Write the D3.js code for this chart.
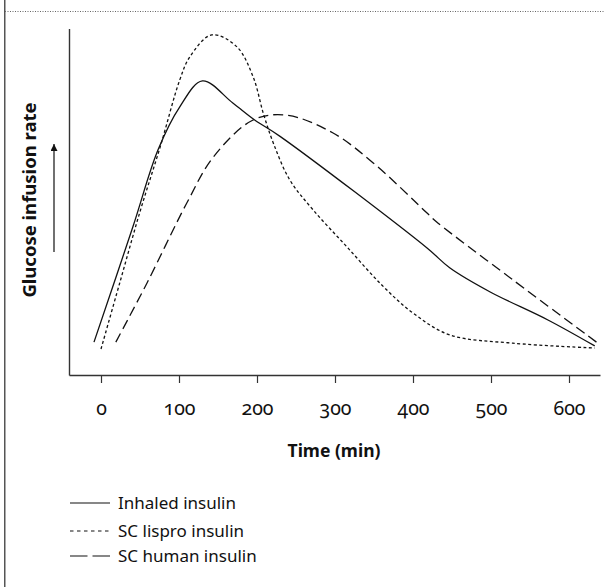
<!DOCTYPE html>
<html>
<head>
<meta charset="utf-8">
<script src="https://cdn.jsdelivr.net/npm/d3@7"></script>
<style>
  body { margin: 0; background: #fff; }
  svg { display: block; }
  svg text { font-family: "Noto Sans", "Open Sans", sans-serif; fill: #111; }
  .tick text { font-variant-numeric: oldstyle-nums; font-feature-settings: "onum"; }
</style>
</head>
<body>
<div id="box-div"></div>
<script>
// time points (min) and relative glucose infusion rate (0-100, arbitrary)
const inhaledTime  = [-9, 41, 73, 101, 130, 169, 197, 230, 418, 447, 499, 573, 633];
const inhaledValue = [9.5, 42.9, 65, 77.5, 85, 78.6, 73.7, 68.9, 36.7, 31, 24, 15.9, 8.4];

const lisproTime  = [0, 24, 50, 76, 101, 114, 142, 174, 195, 208, 221, 242, 272, 315, 360, 400, 447, 528, 633];
const lisproValue = [7.5, 26.6, 47.2, 66, 85.3, 92, 98.3, 94.9, 86.2, 75.7, 67, 56.4, 47.7, 37.1, 26, 17.9, 11.6, 9.2, 7.8];

const humanTime  = [19, 59, 110, 144, 195, 238, 297, 349, 418, 430, 528, 637];
const humanValue = [9.5, 26.6, 49.7, 63, 73.7, 75.1, 70, 61.3, 46.8, 44.3, 27.5, 9.2];

const xTicks = [0, 100, 200, 300, 400, 500, 600];
const legendLabels = ['Inhaled insulin', 'SC lispro insulin', 'SC human insulin'];

const dms = { width: 605, height: 587 };

const svg = d3.select('#box-div').append('svg')
    .attr('width', dms.width)
    .attr('height', dms.height);

// frame bits left over from the page crop
svg.append('rect')
    .attr('x', 4).attr('y', 0).attr('width', 1.5).attr('height', dms.height)
    .attr('fill', '#555');
svg.append('line')
    .attr('x1', 5).attr('y1', 11.5).attr('x2', dms.width).attr('y2', 11.5)
    .attr('stroke', '#666').attr('stroke-width', 1)
    .attr('stroke-dasharray', '1,1.5');

// x(0) lands near 101, 100 min = 78 px
const x = d3.scaleLinear()
    .domain([-(101 - 69) / 0.78, (600 - 101) / 0.78])
    .range([69, 600]);
const y = d3.scaleLinear().domain([0, 100]).range([375, 29]);

const xAxis = svg.append('g')
    .attr('transform', 'translate(0,375)')
    .call(d3.axisBottom(x).tickValues(xTicks).tickSize(8).tickPadding(18).tickSizeOuter(0));
xAxis.select('.domain').attr('stroke', '#333').attr('stroke-width', 1.4);
xAxis.selectAll('.tick line').attr('stroke', '#333').attr('stroke-width', 1.2);
xAxis.selectAll('.tick text').attr('font-size', 19.5).attr('fill', '#111')
    .style('font-family', '"Noto Sans", sans-serif');

svg.append('line')
    .attr('x1', 69.5).attr('y1', 29).attr('x2', 69.5).attr('y2', 375.5)
    .attr('stroke', '#333').attr('stroke-width', 1.4);

// axis titles
svg.append('text')
    .attr('x', 334).attr('y', 457)
    .attr('text-anchor', 'middle')
    .attr('font-size', 17.5).attr('font-weight', 'bold')
    .text('Time (min)');

svg.append('text')
    .attr('transform', 'translate(36,200) rotate(-90)')
    .attr('text-anchor', 'middle')
    .attr('font-size', 18.5).attr('font-weight', 'bold')
    .text('Glucose infusion rate');

svg.append('defs').append('marker')
    .attr('id', 'arrow')
    .attr('viewBox', '0 0 10 10')
    .attr('refX', 10).attr('refY', 5)
    .attr('markerWidth', 7).attr('markerHeight', 7)
    .attr('markerUnits', 'userSpaceOnUse')
    .attr('orient', 'auto')
    .append('path').attr('d', 'M0,0L10,5L0,10z').attr('fill', '#111');

svg.append('line')
    .attr('x1', 54).attr('y1', 252).attr('x2', 54).attr('y2', 144)
    .attr('stroke', '#111').attr('stroke-width', 1.2)
    .attr('marker-end', 'url(#arrow)');

// curves
const series = [
    { t: inhaledTime, v: inhaledValue, dash: null },
    { t: lisproTime, v: lisproValue, dash: '3,2.5' },
    { t: humanTime, v: humanValue, dash: '10,5' }
];

const lineGen = d3.line()
    .x(d => x(d[0]))
    .y(d => y(d[1]))
    .curve(d3.curveCatmullRom.alpha(0.5));

series.forEach(s => {
    svg.append('path')
        .datum(s.t.map((t, i) => [t, s.v[i]]))
        .attr('d', lineGen)
        .attr('fill', 'none')
        .attr('stroke', '#111')
        .attr('stroke-width', 1.3)
        .attr('stroke-dasharray', s.dash);
});

// legend
const legendDash = [null, '3.5,3.5', '17.5,5'];
const legendY = [503, 531, 556];
legendLabels.forEach((label, i) => {
    svg.append('line')
        .attr('x1', 70).attr('x2', 110)
        .attr('y1', legendY[i]).attr('y2', legendY[i])
        .attr('stroke', '#111').attr('stroke-width', 1.2)
        .attr('stroke-dasharray', legendDash[i]);
    svg.append('text')
        .attr('x', 118).attr('y', legendY[i] + 6)
        .attr('font-size', 17)
        .text(label);
});
</script>
</body>
</html>
